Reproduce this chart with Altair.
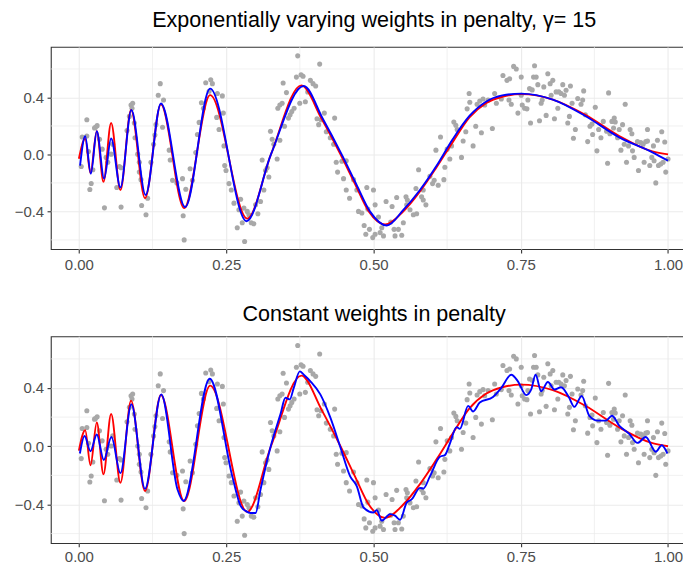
import altair as alt
import pandas as pd

# ---------------- scatter observations (same in both panels) ----------------
pts_x_a = [0.004, 0.0135, 0.0056, 0.0135, 0.0163, 0.0209, 0.0186, 0.0237, 0.0265, 0.031, 0.0282, 0.035,
           0.0395, 0.0434, 0.0462, 0.049, 0.0547, 0.0575, 0.0643, 0.0688, 0.0716, 0.0716, 0.0817, 0.0857,
           0.0885, 0.0902, 0.0913, 0.0941, 0.0953, 0.0998, 0.1026, 0.1026, 0.1054, 0.1065, 0.1139, 0.1167,
           0.1223, 0.1268, 0.1308, 0.129, 0.1347, 0.1381, 0.1437, 0.142, 0.1533, 0.155, 0.159, 0.1663,
           0.1759, 0.177, 0.1787, 0.1815, 0.1888, 0.1928, 0.1984, 0.2012, 0.2041, 0.208, 0.2114, 0.2153,
           0.2238, 0.2266, 0.221, 0.2351, 0.2435, 0.2339, 0.2379, 0.2452, 0.2475]
pts_y_a = [-0.085, 0.244, 0.122, 0.129, 0.021, -0.204, -0.246, -0.108, 0.186, 0.202, 0.191, 0.106,
           0.037, -0.375, -0.021, -0.055, 0.002, 0.071, -0.232, -0.085, -0.094, -0.37, 0.168, 0.267,
           0.347, 0.324, 0.359, 0.221, 0.117, 0.002, -0.055, -0.124, -0.177, -0.359, -0.423, -0.308,
           -0.055, 0.071, 0.209, 0.136, 0.416, 0.497, 0.382, 0.191, 0.03, -0.039, -0.182, -0.2,
           -0.17, -0.43, -0.6, -0.244, -0.101, -0.182, 0.014, 0.14, 0.225, 0.363, 0.324, 0.503,
           0.524, 0.497, 0.444, 0.428, 0.411, 0.26, 0.175, 0.29, -0.078]

pts_x_b = [0.2463, 0.2497, 0.2548, 0.2587, 0.2632, 0.2688, 0.2716, 0.2745, 0.2773, 0.2801, 0.2813, 0.2858,
           0.2886, 0.2926, 0.297, 0.2999, 0.3038, 0.3083, 0.3111, 0.314, 0.3168, 0.3196, 0.3224, 0.3252,
           0.3281, 0.3309, 0.3365, 0.3377, 0.3411, 0.345, 0.3411, 0.3467, 0.349, 0.3523, 0.3557, 0.3585,
           0.3614, 0.3653, 0.3692, 0.3714, 0.3749, 0.3771, 0.3805, 0.3844, 0.3884, 0.3929, 0.3974, 0.4019,
           0.4087, 0.4042, 0.407, 0.411, 0.4166, 0.42, 0.4267, 0.4324, 0.4341, 0.4368, 0.4391, 0.4464,
           0.4538, 0.4492, 0.4538, 0.4594, 0.4662, 0.4718, 0.4746, 0.4803, 0.4842, 0.4887, 0.4904, 0.487,
           0.4932, 0.4988, 0.5]
pts_y_b = [0.06, -0.113, -0.205, -0.25, -0.342, -0.515, -0.389, -0.315, -0.48, -0.377, -0.611, -0.4,
           -0.423, -0.48, -0.487, -0.354, -0.416, -0.331, -0.039, -0.25, -0.113, -0.094, -0.159, 0.163,
           0.106, 0.071, -0.032, 0.324, 0.347, 0.359, 0.099, 0.501, 0.198, 0.434, 0.255, 0.278,
           0.301, 0.324, 0.543, 0.692, 0.359, 0.559, 0.549, 0.37, 0.439, 0.52, 0.497, 0.48,
           0.634, 0.251, 0.209, 0.244, 0.29, 0.159, 0.117, 0.071, 0.255, -0.055, -0.124, -0.048,
           -0.044, -0.17, -0.25, -0.308, -0.177, -0.25, -0.4, -0.411, -0.499, -0.232, -0.384, -0.561,
           -0.526, -0.584, -0.25]

pts_x_c = [0.5028, 0.5085, 0.5028, 0.5113, 0.517, 0.5141, 0.5214, 0.5293, 0.5316, 0.535, 0.5394, 0.5366,
           0.5423, 0.548, 0.5507, 0.5552, 0.5575, 0.5564, 0.562, 0.5677, 0.5733, 0.5721, 0.5766, 0.5817,
           0.5845, 0.5845, 0.589, 0.5958, 0.6003, 0.6031, 0.606, 0.6099, 0.6138, 0.6195, 0.6212, 0.6251,
           0.6296, 0.6325, 0.6364, 0.6398, 0.6421, 0.6494, 0.6522, 0.6567, 0.659, 0.6624, 0.6635, 0.6691,
           0.6736, 0.6759, 0.6804, 0.686, 0.6832, 0.6888, 0.6945, 0.7018, 0.7057, 0.7086, 0.717, 0.7198,
           0.7266, 0.7311, 0.73, 0.7339, 0.7379, 0.7424, 0.7452, 0.7508, 0.7525]
pts_y_c = [-0.354, -0.439, -0.561, -0.549, -0.572, -0.515, -0.331, -0.474, -0.366, -0.526, -0.303, -0.572,
           -0.526, -0.568, -0.48, -0.297, -0.32, -0.354, -0.389, -0.423, -0.416, -0.239, -0.108, -0.297,
           -0.32, -0.25, -0.354, -0.154, -0.205, -0.182, 0.03, -0.216, 0.122, -0.177, -0.09, 0.037,
           -0.032, 0.06, 0.228, 0.205, 0.175, -0.021, 0.094, 0.159, 0.32, 0.428, 0.366, 0.06,
           0.198, 0.352, 0.375, 0.389, 0.152, 0.347, 0.382, 0.182, 0.428, 0.359, 0.389, 0.554,
           0.52, 0.531, 0.382, 0.352, 0.618, 0.6, 0.29, 0.543, 0.347]

pts_x_d = [0.7508, 0.7565, 0.7605, 0.7621, 0.7649, 0.7694, 0.7666, 0.7734, 0.7717, 0.7762, 0.779, 0.7818,
           0.7846, 0.7864, 0.7891, 0.7931, 0.7959, 0.7999, 0.8016, 0.8044, 0.8072, 0.81, 0.8146, 0.8129,
           0.8185, 0.8213, 0.8241, 0.8269, 0.8298, 0.8326, 0.8343, 0.8371, 0.8394, 0.8427, 0.8467, 0.8523,
           0.8551, 0.8568, 0.8596, 0.8636, 0.8675, 0.872, 0.8709, 0.8765, 0.8793, 0.8822, 0.8861, 0.8901,
           0.8957, 0.8974, 0.8991, 0.9013, 0.9047, 0.9087, 0.9104, 0.9075, 0.9143, 0.9171, 0.92, 0.9228,
           0.9256, 0.9273, 0.9295, 0.9329, 0.9357, 0.9386, 0.9397, 0.9425, 0.9481, 0.9498, 0.9538, 0.9577,
           0.9594, 0.9622, 0.9651, 0.9651, 0.969, 0.9724, 0.9752, 0.9763, 0.9792, 0.982, 0.9837, 0.9876,
           0.9893, 0.9916, 0.9944, 0.9961, 1.0]
pts_y_d = [0.416, 0.324, 0.32, 0.382, 0.462, 0.453, 0.221, 0.623, 0.543, 0.543, 0.49, 0.237,
           0.359, 0.382, 0.474, 0.274, 0.566, 0.497, 0.416, 0.52, 0.251, 0.439, 0.439, 0.324,
           0.428, 0.49, 0.416, 0.451, 0.221, 0.267, 0.48, 0.359, 0.113, 0.175, 0.393, 0.352,
           0.382, 0.446, 0.278, 0.09, 0.198, 0.14, 0.214, 0.331, 0.025, 0.175, 0.117, 0.232,
           0.163, -0.062, 0.432, 0.145, 0.232, 0.255, 0.228, 0.186, 0.117, 0.175, 0.03, 0.209,
           0.071, 0.352, -0.055, 0.06, 0.175, 0.145, 0.025, -0.021, 0.09, -0.113, 0.083, 0.071,
           -0.055, 0.09, 0.094, 0.175, -0.078, -0.021, 0.06, -0.044, -0.2, 0.099, -0.078, -0.067,
           0.159, -0.055, 0.087, -0.124, -0.032]

# ---------------- true function (red) ----------------
red_x = [0.0, 0.0107, 0.0197, 0.0304, 0.0417, 0.0547, 0.0705, 0.0885, 0.1122, 0.1392, 0.1787, 0.2227,
         0.2858, 0.326, 0.3777, 0.412, 0.444, 0.469, 0.492, 0.5198, 0.5507, 0.5789, 0.6071, 0.635,
         0.6629, 0.6909, 0.7187, 0.7508, 0.8044, 0.8596, 0.9171, 0.9735, 1.0]
red_y = [-0.03, 0.11, -0.131, 0.163, -0.193, 0.221, -0.251, 0.313, -0.308, 0.352, -0.377, 0.416,
         -0.451, 0.0, 0.485, 0.25, 0.0, -0.21, -0.40, -0.492, -0.40, -0.26, -0.09, 0.09,
         0.26, 0.36, 0.405, 0.423, 0.385, 0.278, 0.129, 0.021, 0.0]

# ---------------- fit with exponentially varying weights (blue, top) ----------------
blue1_x = [0.002, 0.0107, 0.0203, 0.0304, 0.0428, 0.0547, 0.0705, 0.0891, 0.1133, 0.1392, 0.1804, 0.2227,
           0.2847, 0.326, 0.3816, 0.414, 0.446, 0.471, 0.494, 0.5226, 0.5507, 0.5789, 0.6071, 0.635,
           0.6629, 0.6909, 0.7187, 0.7508, 0.8044, 0.8596, 0.9171, 0.9735, 1.0]
blue1_y = [-0.078, 0.128, -0.136, 0.163, -0.17, 0.112, -0.232, 0.312, -0.285, 0.358, -0.37, 0.462,
           -0.469, 0.0, 0.48, 0.25, 0.0, -0.21, -0.40, -0.499, -0.39, -0.25, -0.08, 0.11,
           0.27, 0.37, 0.415, 0.427, 0.385, 0.27, 0.12, 0.015, -0.044]

# ---------------- fit with constant weights (blue, bottom) ----------------
blue2_x = [0.0017, 0.0096, 0.0197, 0.0304, 0.0423, 0.0552, 0.0705, 0.0891, 0.1122, 0.1398, 0.1674, 0.1776,
           0.2221, 0.2604, 0.2745, 0.283, 0.2914, 0.2999, 0.3083, 0.3253, 0.3422, 0.3506, 0.358, 0.3647,
           0.375, 0.3817, 0.393, 0.4098, 0.4267, 0.4437, 0.4605, 0.4718, 0.4831, 0.5, 0.5056, 0.514,
           0.5282, 0.5366, 0.5451, 0.5564, 0.5648, 0.5789, 0.5846, 0.5958, 0.6128, 0.6212, 0.6297, 0.641,
           0.6466, 0.6607, 0.6691, 0.6804, 0.7029, 0.717, 0.7339, 0.7452, 0.7593, 0.7678, 0.7751, 0.7847,
           0.796, 0.8072, 0.8185, 0.8315, 0.841, 0.8534, 0.8664, 0.8805, 0.8946, 0.9048, 0.9171, 0.9341,
           0.9481, 0.9622, 0.9791, 0.9893, 0.9989]
blue2_y = [-0.05, 0.07, -0.034, 0.081, -0.095, 0.063, -0.185, 0.288, -0.293, 0.356, -0.297, -0.376,
           0.464, -0.207, -0.41, -0.444, -0.459, -0.459, -0.297, -0.005, 0.221, 0.333, 0.322, 0.401,
           0.514, 0.491, 0.446, 0.356, 0.198, -0.005, -0.207, -0.275, -0.421, -0.455, -0.439, -0.511,
           -0.466, -0.477, -0.505, -0.387, -0.365, -0.286, -0.291, -0.207, -0.072, -0.061, 0.018, 0.131,
           0.119, 0.277, 0.239, 0.3, 0.338, 0.401, 0.491, 0.446, 0.351, 0.39, 0.491, 0.378,
           0.441, 0.39, 0.405, 0.338, 0.27, 0.345, 0.209, 0.176, 0.176, 0.209, 0.142, 0.086,
           0.023, 0.063, -0.038, 0.007, -0.05]

# ---------------- axes ----------------
x_major = [0.0, 0.25, 0.5, 0.75, 1.0]
x_minor = [0.125, 0.375, 0.625, 0.875]
y_major = [-0.4, 0.0, 0.4]
y_minor = [-0.6, -0.2, 0.2, 0.6]
x_domain = [-0.0476, 1.0499]
y_domain = [-0.665, 0.755]

title_top = "Exponentially varying weights in penalty, \u03b3= 15"
title_bot = "Constant weights in penalty"

pts = pd.DataFrame({"x": pts_x_a + pts_x_b + pts_x_c + pts_x_d,
                    "y": pts_y_a + pts_y_b + pts_y_c + pts_y_d})
red = pd.DataFrame({"x": red_x, "y": red_y})
blue1 = pd.DataFrame({"x": blue1_x, "y": blue1_y})
blue2 = pd.DataFrame({"x": blue2_x, "y": blue2_y})
vmin = pd.DataFrame({"v": x_minor})
hmin = pd.DataFrame({"v": y_minor})

xs = alt.Scale(domain=x_domain, nice=False, zero=False)
ys = alt.Scale(domain=y_domain, nice=False, zero=False)
yax = alt.Axis(values=y_major, title=None,
               labelExpr="replace(format(datum.value, '.1f'), '-', '\u2212')")


def panel(blue_df, title, h, off, lab_pad):
    xax = alt.Axis(values=x_major, format=".2f", title=None, labelPadding=lab_pad)
    vr = alt.Chart(vmin).mark_rule(color="#EBEBEB", strokeWidth=0.7).encode(
        x=alt.X("v:Q", scale=xs, axis=xax))
    hr = alt.Chart(hmin).mark_rule(color="#EBEBEB", strokeWidth=0.7).encode(
        y=alt.Y("v:Q", scale=ys, axis=yax))
    p = alt.Chart(pts).mark_circle(size=26, color="#A8A8A8", opacity=1).encode(
        x=alt.X("x:Q", scale=xs, axis=xax), y=alt.Y("y:Q", scale=ys, axis=yax))
    r = alt.Chart(red).mark_line(color="#FF0000", strokeWidth=1.9, interpolate="monotone").encode(
        x=alt.X("x:Q", scale=xs, axis=xax), y=alt.Y("y:Q", scale=ys, axis=yax))
    b = alt.Chart(blue_df).mark_line(color="#0000FF", strokeWidth=1.9, interpolate="monotone").encode(
        x=alt.X("x:Q", scale=xs, axis=xax), y=alt.Y("y:Q", scale=ys, axis=yax))
    return alt.layer(vr, hr, p, r, b).properties(
        width=649, height=h, title=alt.TitleParams(title, offset=off))


top = panel(blue1, title_top, 203, 15, 5)
bot = panel(blue2, title_bot, 207.5, 10, 3)

chart = alt.vconcat(top, bot, spacing=29.5).properties(
    padding={"left": 5, "top": 0, "right": -15.5, "bottom": -1}
).configure_view(stroke="#333333", strokeWidth=1.1).configure_axis(
    grid=True, gridColor="#EBEBEB", gridWidth=1.1, domain=False,
    tickColor="#333333", tickSize=3.8, tickWidth=1.1,
    labelColor="#4D4D4D", labelFontSize=15, labelFont="Liberation Sans"
).configure_axisY(minExtent=36.5, maxExtent=36.5, labelPadding=3.4).configure_title(
    font="Liberation Sans", fontSize=21.6, fontWeight="normal", color="#000000", anchor="middle"
)

chart.save("out.html", embed_options={"renderer": "svg", "actions": False})
